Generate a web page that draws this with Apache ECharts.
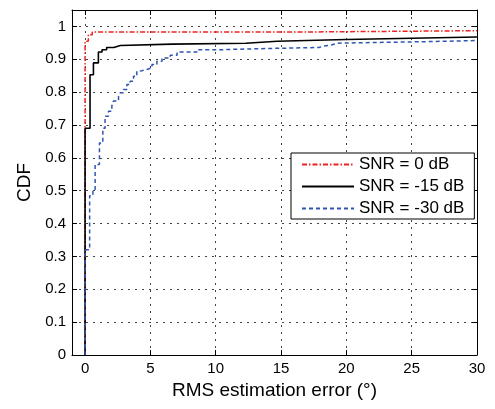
<!DOCTYPE html>
<html>
<head>
<meta charset="utf-8">
<script src="https://cdn.jsdelivr.net/npm/echarts@6/dist/echarts.min.js"></script>
<style>html,body{margin:0;padding:0;background:#fff}#c{width:495px;height:409px}</style>
</head>
<body>
<div id="c"></div>
<script>
const seriesNames = ['SNR = 0 dB', 'SNR = -15 dB', 'SNR = -30 dB'];
const xTicks = [0, 5, 10, 15, 20, 25, 30];
const yTicks = [0, 0.1, 0.2, 0.3, 0.4, 0.5, 0.6, 0.7, 0.8, 0.9, 1];
const xTitle = 'RMS estimation error (°)';
const yTitle = 'CDF';

// CDF step points [error, cdf]
const snr0 = [[0,0],[0,0.955],[0.25,0.975],[0.55,0.983],[16.7,0.987],[30,0.987]];
const snr15 = [[0,0],[0,0.69],[0.38,0.853],[0.64,0.889],[1.02,0.922],[1.3,0.929],[1.65,0.936],[2.2,0.942],[2.7,0.946],[6.65,0.949],[12.3,0.955],[14.7,0.96],[20.0,0.965],[26,0.968],[30,0.968]];
const snr30 = [[0,0],[0,0.32],[0.35,0.485],[0.6,0.5],[0.77,0.58],[1.1,0.645],[1.36,0.69],[1.53,0.727],[1.79,0.742],[2.05,0.758],[2.17,0.773],[2.56,0.788],[2.69,0.798],[2.94,0.808],[3.2,0.823],[3.45,0.833],[3.71,0.848],[3.96,0.864],[4.22,0.869],[4.73,0.874],[5.12,0.884],[5.5,0.894],[5.89,0.904],[6.52,0.912],[7.04,0.922],[8.57,0.929],[10.2,0.932],[13.05,0.936],[17.9,0.941],[18.4,0.944],[18.9,0.949],[19.3,0.954],[26.5,0.957],[30,0.957]];

const FONT = 'Liberation Sans';
const chart = echarts.init(document.getElementById('c'), null, {renderer: 'canvas'});
const gridLine = {show: true, lineStyle: {color: '#444', width: 1, type: [2, 5]}};
const axisLine = {show: true, onZero: false, lineStyle: {color: '#000', width: 1}};
const tick = (vals) => ({show: true, inside: true, length: 5, customValues: vals, lineStyle: {color: '#000'}});
const yFmt = (v) => (yTicks.some(t => Math.abs(t - v) < 1e-9) ? String(+v.toFixed(1)) : '');

chart.setOption({
  animation: false,
  textStyle: {fontFamily: FONT},
  grid: {left: 72, right: 18, top: 10, bottom: 54, containLabel: false},
  legend: {
    left: 291, top: 153, orient: 'vertical',
    data: seriesNames,
    backgroundColor: '#fff', borderColor: '#000', borderWidth: 1,
    padding: [3, 10, 2, 10], itemWidth: 52, itemHeight: 16, itemGap: 5,
    itemStyle: {opacity: 0},
    textStyle: {fontFamily: FONT, fontSize: 17, color: '#000'}
  },
  xAxis: [{
    type: 'value', min: -1, max: 30, position: 'bottom',
    axisLine: axisLine, axisTick: tick(xTicks),
    axisLabel: {customValues: xTicks, color: '#000', fontSize: 15, fontFamily: FONT, margin: 6},
    splitLine: gridLine,
    name: xTitle, nameLocation: 'middle', nameGap: 21,
    nameTextStyle: {fontSize: 19, fontFamily: FONT, color: '#000'}
  }, {
    type: 'value', min: -1, max: 30, position: 'top',
    axisLine: axisLine, axisTick: tick(xTicks),
    axisLabel: {show: false}, splitLine: {show: false}
  }],
  yAxis: [{
    type: 'value', min: 0, max: 1.05, interval: 0.1, position: 'left',
    axisLine: axisLine,
    axisTick: {show: true, inside: true, length: 5, lineStyle: {color: '#000'}},
    axisLabel: {formatter: yFmt, showMaxLabel: false, color: '#000', fontSize: 15, fontFamily: FONT, margin: 6},
    splitLine: gridLine,
    name: yTitle, nameLocation: 'middle', nameGap: 29,
    nameTextStyle: {fontSize: 19, fontFamily: FONT, color: '#000'}
  }, {
    type: 'value', min: 0, max: 1.05, interval: 0.1, position: 'right',
    axisLine: axisLine,
    axisTick: {show: true, inside: true, length: 5, lineStyle: {color: '#000'}},
    axisLabel: {show: false}, splitLine: {show: false}
  }],
  series: [{
    name: seriesNames[0], type: 'line', step: 'end', data: snr0,
    showSymbol: false, symbol: 'none',
    lineStyle: {color: '#ee2222', width: 1.5, type: [5, 2, 1.5, 2]},
    itemStyle: {color: '#ee2222'}
  }, {
    name: seriesNames[1], type: 'line', step: 'end', data: snr15,
    showSymbol: false, symbol: 'none',
    lineStyle: {color: '#000', width: 1.6, type: 'solid'},
    itemStyle: {color: '#000'}
  }, {
    name: seriesNames[2], type: 'line', step: 'end', data: snr30,
    showSymbol: false, symbol: 'none',
    lineStyle: {color: '#2f55b0', width: 1.5, type: [4, 3]},
    itemStyle: {color: '#2f55b0'}
  }]
});
</script>
</body>
</html>
